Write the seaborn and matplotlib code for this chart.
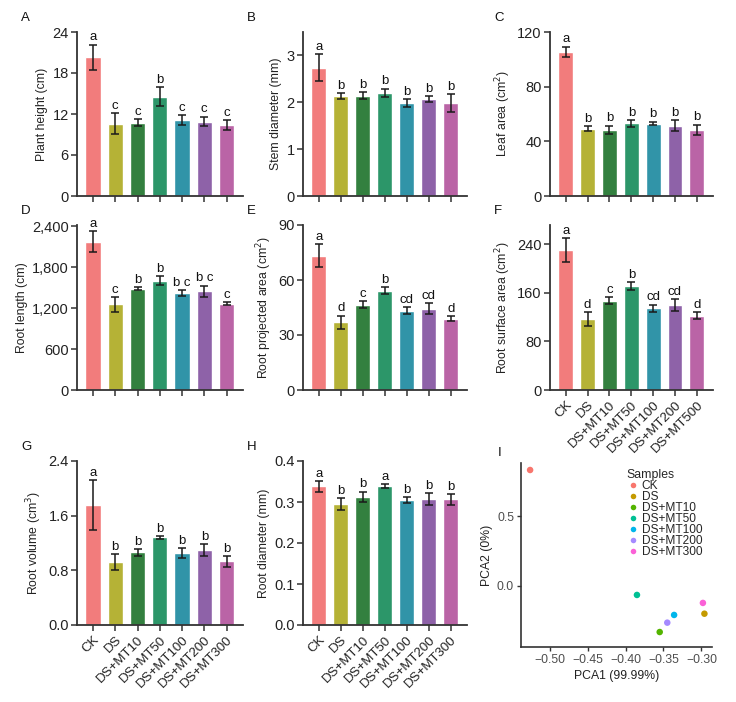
import numpy as np
import pandas as pd
import matplotlib
matplotlib.use("Agg")
import matplotlib.pyplot as plt
import matplotlib.ticker as mticker
import seaborn as sns

# ---------------- data ----------------
groups = ["CK", "DS", "DS+MT10", "DS+MT50", "DS+MT100", "DS+MT200", "DS+MT300"]
groups_f = ["CK", "DS", "DS+MT10", "DS+MT50", "DS+MT100", "DS+MT200", "DS+MT500"]
bar_colors = ["#F27C7C", "#B5B236", "#33803F", "#2C9669", "#3194A8", "#8E62A8", "#BA64A6"]

plant_height = [20.3, 10.6, 10.7, 14.5, 11.1, 10.9, 10.4]
plant_height_err = [1.85, 1.5, 0.5, 1.4, 0.7, 0.72, 0.7]
plant_height_sig = ["a", "c", "c", "b", "c", "c", "c"]

stem_diam = [2.74, 2.14, 2.14, 2.20, 1.99, 2.07, 1.99]
stem_diam_err = [0.29, 0.06, 0.08, 0.09, 0.08, 0.06, 0.19]
stem_diam_sig = ["a", "b", "b", "b", "b", "b", "b"]

leaf_area = [105.4, 49.3, 48.5, 53.2, 53.0, 51.5, 48.5]
leaf_area_err = [3.9, 1.9, 2.9, 2.5, 1.3, 4.2, 3.6]
leaf_area_sig = ["a", "b", "b", "b", "b", "b", "b"]

root_length = [2175, 1256, 1486, 1604, 1420, 1450, 1267]
root_length_err = [153, 105, 20, 67, 43, 79, 25]
root_length_sig = ["a", "c", "b", "b", "b c", "b c", "c"]

root_proj = [73.3, 37.0, 46.5, 54.2, 43.3, 44.4, 38.9]
root_proj_err = [6.3, 3.6, 1.8, 2.0, 1.8, 2.8, 1.5]
root_proj_sig = ["a", "d", "c", "b", "cd", "cd", "d"]

root_surf = [230.7, 117.3, 147.0, 171.5, 135.0, 140.0, 122.2]
root_surf_err = [19.5, 11.0, 6.0, 6.3, 5.8, 9.6, 5.8]
root_surf_sig = ["a", "d", "c", "b", "cd", "cd", "d"]

root_vol = [1.754, 0.915, 1.063, 1.281, 1.052, 1.093, 0.930]
root_vol_err = [0.37, 0.117, 0.048, 0.023, 0.071, 0.087, 0.081]
root_vol_sig = ["a", "b", "b", "b", "b", "b", "b"]

root_diam = [0.338, 0.295, 0.312, 0.338, 0.305, 0.307, 0.3065]
root_diam_err = [0.013, 0.015, 0.013, 0.005, 0.007, 0.014, 0.013]
root_diam_sig = ["a", "b", "b", "a", "b", "b", "b"]

pca_samples = ["CK", "DS", "DS+MT10", "DS+MT50", "DS+MT100", "DS+MT200", "DS+MT300"]
pca1 = [-0.526, -0.296, -0.355, -0.385, -0.336, -0.345, -0.298]
pca2 = [0.829, -0.198, -0.329, -0.064, -0.207, -0.262, -0.121]
pca_colors = ["#F8766D", "#C49A00", "#53B400", "#00C094", "#00B6EB", "#A58AFF", "#FB61D7"]

# ---------------- style ----------------
sns.set_theme(style="ticks")
plt.rcParams["font.family"] = ["Liberation Sans", "DejaVu Sans"]
plt.rcParams["axes.edgecolor"] = "#333333"
plt.rcParams["xtick.color"] = "#333333"
plt.rcParams["ytick.color"] = "#333333"
plt.rcParams["xtick.labelcolor"] = "#222222"
plt.rcParams["ytick.labelcolor"] = "#222222"

fig = plt.figure(figsize=(7.36, 7.02), dpi=100)

colx = [77 / 736, 303 / 736, 550 / 736]
colw = [166 / 736, 164 / 736, 163 / 736]
rowb = [1 - 196 / 702, 1 - 390 / 702, 1 - 625 / 702]
rowh = [164 / 702, 165 / 702, 164 / 702]

YTICK_FS = 10.5
XTICK_FS = 9.5
YLAB_FS = 8.8
SIG_FS = 9.5


def bar_panel(ax, cats, vals, errs, sig, ylabel, ylim, ticks, fmt=None, xlabels=False, letter="A"):
    df = pd.DataFrame({"group": cats, "value": vals})
    sns.barplot(data=df, x="group", y="value", hue="group", palette=bar_colors,
                order=cats, hue_order=cats, legend=False, width=0.68, ax=ax,
                saturation=1, errorbar=None)
    xs = np.arange(len(cats))
    ax.errorbar(xs, vals, yerr=errs, fmt="none", ecolor="#1a1a1a", elinewidth=1.1,
                capsize=3.0, capthick=1.1, zorder=5)
    off = (ylim[1] - ylim[0]) * 0.008
    for x, v, e, s in zip(xs, vals, errs, sig):
        ax.text(x, v + e + off, s, ha="center", va="bottom", fontsize=SIG_FS, color="#111111")
    ax.set_ylim(*ylim)
    ax.set_yticks(ticks)
    if fmt is not None:
        ax.yaxis.set_major_formatter(fmt)
    ax.set_xlim(-0.72, len(cats) - 1 + 0.74)
    ax.set_ylabel(ylabel, fontsize=YLAB_FS, color="#222222", labelpad=3)
    ax.set_xlabel("")
    sns.despine(ax=ax)
    for sp in ["left", "bottom"]:
        ax.spines[sp].set_linewidth(1.3)
    ax.tick_params(axis="y", length=4.5, width=1.1, labelsize=YTICK_FS, pad=1.5)
    ax.tick_params(axis="x", length=4.5, width=1.1, labelsize=XTICK_FS, pad=2)
    ax.set_xticks(xs)
    if xlabels:
        ax.set_xticklabels(cats, rotation=45, ha="right", rotation_mode="anchor",
                           fontsize=XTICK_FS)
    else:
        ax.set_xticklabels([])
    fig.text(ax.get_position().x0 - 56 / 736, ax.get_position().y1 + 8 / 702, letter,
             fontsize=9.5, color="#111111", ha="left", va="bottom")


comma = mticker.FuncFormatter(lambda v, p: f"{int(v):,}")
one_dec = mticker.FormatStrFormatter("%.1f")

specs = [
    (0, 0, groups, plant_height, plant_height_err, plant_height_sig, "Plant height (cm)", (0, 24), [0, 6, 12, 18, 24], None, False, "A"),
    (0, 1, groups, stem_diam, stem_diam_err, stem_diam_sig, "Stem diameter (mm)", (0, 3.5), [0, 1, 2, 3], None, False, "B"),
    (0, 2, groups, leaf_area, leaf_area_err, leaf_area_sig, "Leaf area (cm$^2$)", (0, 120), [0, 40, 80, 120], None, False, "C"),
    (1, 0, groups, root_length, root_length_err, root_length_sig, "Root length (cm)", (0, 2420), [0, 600, 1200, 1800, 2400], comma, False, "D"),
    (1, 1, groups, root_proj, root_proj_err, root_proj_sig, "Root projected area (cm$^2$)", (0, 90), [0, 30, 60, 90], None, False, "E"),
    (1, 2, groups_f, root_surf, root_surf_err, root_surf_sig, "Root surface area (cm$^2$)", (0, 272), [0, 80, 160, 240], None, True, "F"),
    (2, 0, groups, root_vol, root_vol_err, root_vol_sig, "Root volume (cm$^3$)", (0, 2.4), [0.0, 0.8, 1.6, 2.4], one_dec, True, "G"),
    (2, 1, groups, root_diam, root_diam_err, root_diam_sig, "Root diameter (mm)", (0, 0.4), [0.0, 0.1, 0.2, 0.3, 0.4], one_dec, True, "H"),
]

for r, c, cats, vals, errs, sig, yl, ylim, ticks, fmt, xl, let in specs:
    ax = fig.add_axes([colx[c], rowb[r], colw[c], rowh[r]])
    bar_panel(ax, cats, vals, errs, sig, yl, ylim, ticks, fmt, xl, let)

# ---------------- PCA panel ----------------
axp = fig.add_axes([521 / 736, 1 - 647 / 702, 191 / 736, 184 / 702])
dfp = pd.DataFrame({"Samples": pca_samples, "PCA1": pca1, "PCA2": pca2})
sns.scatterplot(data=dfp, x="PCA1", y="PCA2", hue="Samples", hue_order=pca_samples,
                palette=pca_colors, s=22, edgecolor="none", ax=axp)
axp.set_xlim(-0.538, -0.286)
axp.set_ylim(-0.436, 0.879)
axp.set_xticks([-0.50, -0.45, -0.40, -0.35, -0.30])
axp.xaxis.set_major_formatter(mticker.FuncFormatter(lambda v, p: f"{v:.2f}".replace("-", "\u2212")))
axp.set_yticks([0.0, 0.5])
axp.yaxis.set_major_formatter(mticker.FuncFormatter(lambda v, p: f"{v:.1f}".replace("-", "\u2212")))
axp.set_xlabel("PCA1 (99.99%)", fontsize=8.8, color="#222222", labelpad=3)
axp.set_ylabel("PCA2 (0%)", fontsize=8.8, color="#222222", labelpad=3)
sns.despine(ax=axp)
for sp in ["left", "bottom"]:
    axp.spines[sp].set_linewidth(1.2)
    axp.spines[sp].set_color("#333333")
axp.tick_params(axis="both", length=3, width=1.0, labelsize=8.8, pad=2,
                labelcolor="#4D4D4D")
leg = axp.legend(title="Samples", loc="upper left", bbox_to_anchor=(0.52, 1.0),
                 frameon=False, fontsize=8.6, title_fontsize=8.8,
                 labelspacing=-0.08, handletextpad=0.1, handlelength=1.2,
                 borderaxespad=0.1, markerscale=0.85)
leg._legend_box.align = "left"
fig.text(498 / 736, 1 - 453 / 702, "I", fontsize=9.5, color="#111111", ha="left", va="center")

fig.savefig("out.png", dpi=100)
